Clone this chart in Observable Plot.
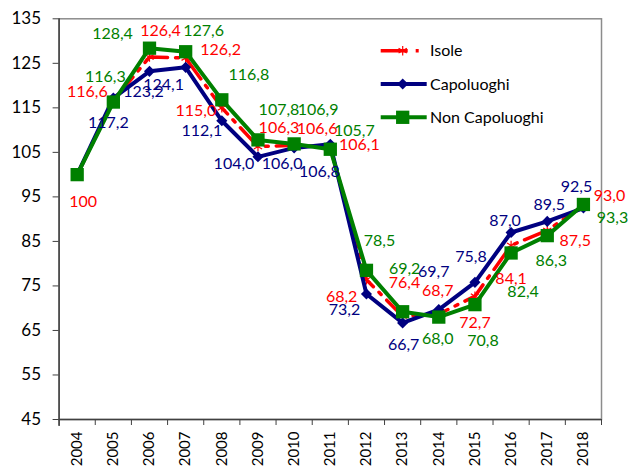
<!DOCTYPE html>
<html><head><meta charset="utf-8">
<script src="https://cdn.jsdelivr.net/npm/d3@7"></script>
<script src="https://cdn.jsdelivr.net/npm/@observablehq/plot@0.6"></script>
<style>html,body{margin:0;padding:0;background:#fff;} #chart{width:629px;height:468px;}</style>
</head><body><div id="chart"></div>
<script>
const years = [2004,2005,2006,2007,2008,2009,2010,2011,2012,2013,2014,2015,2016,2017,2018];
const isole = [100,116.6,126.4,126.2,115.0,106.3,106.6,106.1,76.4,68.2,68.7,72.7,84.1,87.5,93.0];
const capoluoghi = [100,117.2,123.2,124.1,112.1,104.0,106.0,106.8,73.2,66.7,69.7,75.8,87.0,89.5,92.5];
const nonCapoluoghi = [100,116.3,128.4,127.6,116.8,107.8,106.9,105.7,78.5,69.2,68.0,70.8,82.4,86.3,93.3];
const yTicks = [45,55,65,75,85,95,105,115,125,135];
const seriesNames = ["Isole","Capoluoghi","Non Capoluoghi"];

// label placement (pixel offsets from each point; null = no label)
const isoleLabelOffsets = [[6,27],[-26,-9],[11,-26],[35,-8],[-26,3],[21,-19],[23,-16],[29,-3],[38,3],[-61,-19],[-1,-23],[0,27],[0,33],[28,11],[26,-10]];
const capoluoghiLabelOffsets = [null,[-5,25],[-6,21],[-22,18],[-20,10],[-24,7],[-12,16],[-11,28],[-22,16],[1,22],[-5,-38],[-4,-25],[-6,-12],[2,-17],[-7,-21]];
const nonCapoluoghiLabelOffsets = [null,[-8,-25],[-37,-14],[18,-21],[27,-25],[21,-30],[24,-34],[24,-18],[13,-29],[2,-43],[-1,22],[8,36],[12,39],[4,25],[29,13]];

const colors = {"Isole":"#ff0000","Capoluoghi":"#000080","Non Capoluoghi":"#008000"};
const dash = "25,8,3,8";
const fmt = v => v === 100 ? "100" : v.toFixed(1).replace(".", ",");

const series = [
  {name: seriesNames[0], values: isole, offsets: isoleLabelOffsets},
  {name: seriesNames[1], values: capoluoghi, offsets: capoluoghiLabelOffsets},
  {name: seriesNames[2], values: nonCapoluoghi, offsets: nonCapoluoghiLabelOffsets}
];
const rows = series.flatMap(s => years.map((year, i) => ({series: s.name, year, value: s.values[i], off: s.offsets[i]})));
const of = name => rows.filter(d => d.series === name);
const boundaries = d3.range(2003.5, 2019, 1);

const labelMarks = rows.filter(d => d.off).map(d =>
  Plot.text([d], {x: "year", y: "value", text: r => fmt(r.value), dx: d.off[0], dy: d.off[1],
    fill: colors[d.series], fontSize: 16})
);

const chart = Plot.plot({
  width: 629, height: 468,
  marginLeft: 58.6, marginRight: 28, marginTop: 18.3, marginBottom: 49,
  style: {fontFamily: "Lato, sans-serif", fontSize: "16px", background: "#fff", color: "#000", overflow: "visible"},
  x: {domain: [2003.5, 2018.5]},
  y: {domain: [45, 135]},
  marks: [
    Plot.frame({stroke: "#8c8c8c", strokeWidth: 1.5}),
    Plot.axisY({ticks: yTicks, tickSize: 6, tickPadding: 12, fontSize: 17, stroke: "#404040", label: null, tickFormat: d => String(d)}),
    Plot.axisX({ticks: boundaries, tickSize: 6, stroke: "#404040", label: null, tickFormat: () => ""}),
    Plot.axisX({ticks: years, tickSize: 0, tickPadding: 12, tickRotate: -90, fontSize: 15, label: null, tickFormat: d => String(d)}),
    Plot.ruleX([2003.5], {stroke: "#404040", strokeWidth: 1.5, insetBottom: -7}),
    Plot.ruleY([45], {stroke: "#404040", strokeWidth: 1.5}),
    Plot.line(of("Isole"), {x: "year", y: "value", stroke: colors["Isole"], strokeWidth: 3.5, strokeDasharray: dash}),
    Plot.dot(of("Isole"), {x: "year", y: "value", symbol: "asterisk", r: 4.5, stroke: colors["Isole"], strokeWidth: 1.2}),
    Plot.line(of("Capoluoghi"), {x: "year", y: "value", stroke: colors["Capoluoghi"], strokeWidth: 4}),
    Plot.dot(of("Capoluoghi"), {x: "year", y: "value", symbol: "diamond2", r: 5, fill: colors["Capoluoghi"]}),
    Plot.line(of("Non Capoluoghi"), {x: "year", y: "value", stroke: colors["Non Capoluoghi"], strokeWidth: 4}),
    Plot.dot(of("Non Capoluoghi"), {x: "year", y: "value", symbol: "square", r: 7.5, fill: colors["Non Capoluoghi"]}),
    ...labelMarks
  ]
});
document.getElementById("chart").appendChild(chart);

// legend inside the plot area
const svg = d3.select(chart);
const lg = svg.append("g").attr("font-family", "Lato, sans-serif").attr("font-size", 16).attr("text-anchor", "start");
const legendSymbols = {"Isole": d3.symbolAsterisk, "Capoluoghi": d3.symbolDiamond2, "Non Capoluoghi": d3.symbolSquare};
const legendR = {"Isole": 4.5, "Capoluoghi": 5, "Non Capoluoghi": 7.5};
seriesNames.forEach((name, i) => {
  const y = 50.7 + i * 33.3;
  const g = lg.append("g").attr("transform", `translate(0,${y})`);
  g.append("line").attr("x1", 380.7).attr("x2", name === "Isole" ? 419.5 : 426.7).attr("y1", 0).attr("y2", 0)
    .attr("stroke", colors[name]).attr("stroke-width", name === "Isole" ? 3.5 : 4)
    .attr("stroke-dasharray", name === "Isole" ? "27,8,3,8" : null);
  const sym = d3.symbol(legendSymbols[name], Math.PI * legendR[name] ** 2)();
  const p = g.append("path").attr("d", sym).attr("transform", "translate(402.7,0)");
  if (name === "Isole") p.attr("fill", "none").attr("stroke", colors[name]).attr("stroke-width", 1.2);
  else p.attr("fill", colors[name]);
  g.append("text").attr("x", 430).attr("y", 0).attr("dy", "0.35em").attr("text-anchor", "start").attr("fill", "#000").text(name);
});
</script>
</body></html>
